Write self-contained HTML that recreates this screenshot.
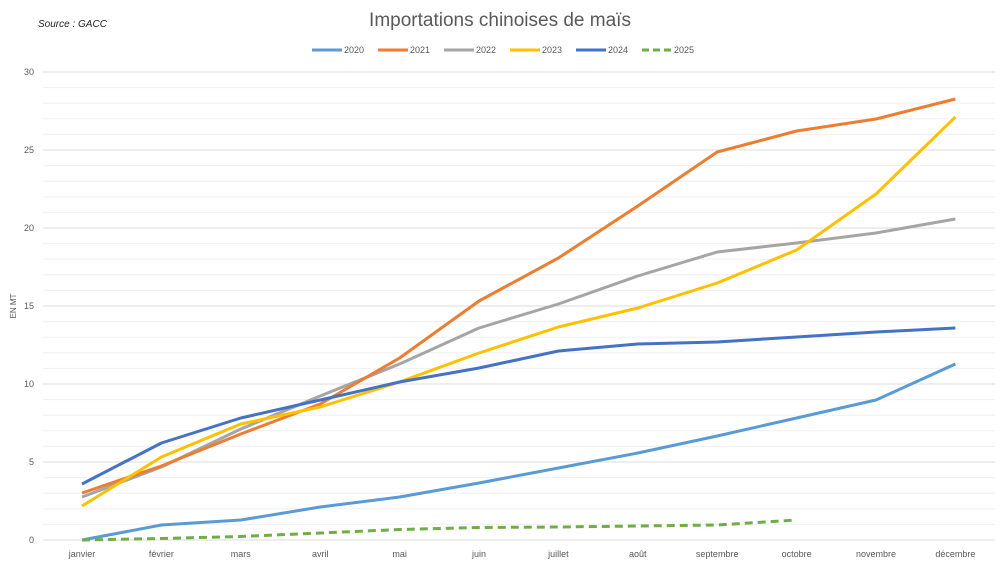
<!DOCTYPE html>
<html><head><meta charset="utf-8"><style>
body{margin:0;background:#fff;}
svg text{font-family:"Liberation Sans",sans-serif;}
</style></head><body>
<svg width="1000" height="562" viewBox="0 0 1000 562" xmlns="http://www.w3.org/2000/svg">
<rect width="1000" height="562" fill="#fff"/>
<text x="38" y="27" font-size="10" font-style="italic" fill="#222">Source : GACC</text>
<text x="500" y="26" font-size="19" fill="#595959" text-anchor="middle">Importations chinoises de maïs</text>
<g font-size="9" fill="#595959">
<line x1="312" y1="50" x2="342" y2="50" stroke="#5B9BD5" stroke-width="3"/><text x="344" y="53">2020</text>
<line x1="378" y1="50" x2="408" y2="50" stroke="#ED7D31" stroke-width="3"/><text x="410" y="53">2021</text>
<line x1="444" y1="50" x2="474" y2="50" stroke="#A5A5A5" stroke-width="3"/><text x="476" y="53">2022</text>
<line x1="510" y1="50" x2="540" y2="50" stroke="#FFC000" stroke-width="3"/><text x="542" y="53">2023</text>
<line x1="576" y1="50" x2="606" y2="50" stroke="#4472C4" stroke-width="3"/><text x="608" y="53">2024</text>
<line x1="642" y1="50" x2="672" y2="50" stroke="#70AD47" stroke-width="3" stroke-dasharray="7,4"/><text x="674" y="53">2025</text>
</g>
<g stroke="#f0f0f0" stroke-width="1">
<line x1="43" x2="995" y1="524.4" y2="524.4"/><line x1="43" x2="995" y1="508.8" y2="508.8"/><line x1="43" x2="995" y1="493.2" y2="493.2"/><line x1="43" x2="995" y1="477.6" y2="477.6"/>
<line x1="43" x2="995" y1="446.4" y2="446.4"/><line x1="43" x2="995" y1="430.8" y2="430.8"/><line x1="43" x2="995" y1="415.2" y2="415.2"/><line x1="43" x2="995" y1="399.6" y2="399.6"/>
<line x1="43" x2="995" y1="368.4" y2="368.4"/><line x1="43" x2="995" y1="352.8" y2="352.8"/><line x1="43" x2="995" y1="337.2" y2="337.2"/><line x1="43" x2="995" y1="321.6" y2="321.6"/>
<line x1="43" x2="995" y1="290.4" y2="290.4"/><line x1="43" x2="995" y1="274.8" y2="274.8"/><line x1="43" x2="995" y1="259.2" y2="259.2"/><line x1="43" x2="995" y1="243.6" y2="243.6"/>
<line x1="43" x2="995" y1="212.4" y2="212.4"/><line x1="43" x2="995" y1="196.8" y2="196.8"/><line x1="43" x2="995" y1="181.2" y2="181.2"/><line x1="43" x2="995" y1="165.6" y2="165.6"/>
<line x1="43" x2="995" y1="134.4" y2="134.4"/><line x1="43" x2="995" y1="118.8" y2="118.8"/><line x1="43" x2="995" y1="103.2" y2="103.2"/><line x1="43" x2="995" y1="87.6" y2="87.6"/>
</g>
<g stroke="#dedede" stroke-width="1">
<line x1="43" x2="995" y1="540" y2="540"/><line x1="43" x2="995" y1="462" y2="462"/><line x1="43" x2="995" y1="384" y2="384"/>
<line x1="43" x2="995" y1="306" y2="306"/><line x1="43" x2="995" y1="228" y2="228"/><line x1="43" x2="995" y1="150" y2="150"/><line x1="43" x2="995" y1="72" y2="72"/>
</g>
<g font-size="9" fill="#595959" text-anchor="end">
<text x="34" y="543">0</text><text x="34" y="465">5</text><text x="34" y="387">10</text><text x="34" y="309">15</text><text x="34" y="231">20</text><text x="34" y="153">25</text><text x="34" y="75">30</text>
</g>
<text transform="translate(16,306) rotate(-90)" font-size="8" fill="#595959" text-anchor="middle">EN MT</text>
<g font-size="9" fill="#595959" text-anchor="middle">
<text x="82" y="557">janvier</text><text x="161.4" y="557">février</text><text x="240.8" y="557">mars</text><text x="320.2" y="557">avril</text><text x="399.6" y="557">mai</text><text x="479" y="557">juin</text><text x="558.4" y="557">juillet</text><text x="637.8" y="557">août</text><text x="717.2" y="557">septembre</text><text x="796.6" y="557">octobre</text><text x="876" y="557">novembre</text><text x="955.4" y="557">décembre</text>
</g>
<g fill="none" stroke-width="3" stroke-linejoin="round">
<polyline stroke="#5B9BD5" points="82,540 161.4,525 240.8,520 320.2,507 399.6,497 479,483 558.4,468 637.8,453 717.2,436 796.6,418 876,400 955.4,364"/>
<polyline stroke="#A5A5A5" points="82,497 161.4,467 240.8,429 320.2,396 399.6,364 479,328 558.4,304 637.8,276 717.2,252 796.6,243 876,233 955.4,219"/>
<polyline stroke="#ED7D31" points="82,493 161.4,466 240.8,434 320.2,404 399.6,358 479,301 558.4,258 637.8,206 717.2,152 796.6,131 876,119 955.4,99"/>
<polyline stroke="#FFC000" points="82,506 161.4,457 240.8,424 320.2,407 399.6,382 479,353 558.4,327 637.8,308 717.2,283 796.6,250 876,194 955.4,117"/>
<polyline stroke="#4472C4" points="82,484 161.4,443 240.8,418 320.2,400 399.6,382 479,368 558.4,351 637.8,344 717.2,342 796.6,337 876,332 955.4,328"/>
<polyline stroke="#70AD47" stroke-dasharray="8,5" points="82,540 161.4,538.5 240.8,536.5 320.2,533 399.6,529.5 479,527.5 558.4,527 637.8,526 717.2,525 796.6,520"/>
</g>
</svg>
</body></html>
